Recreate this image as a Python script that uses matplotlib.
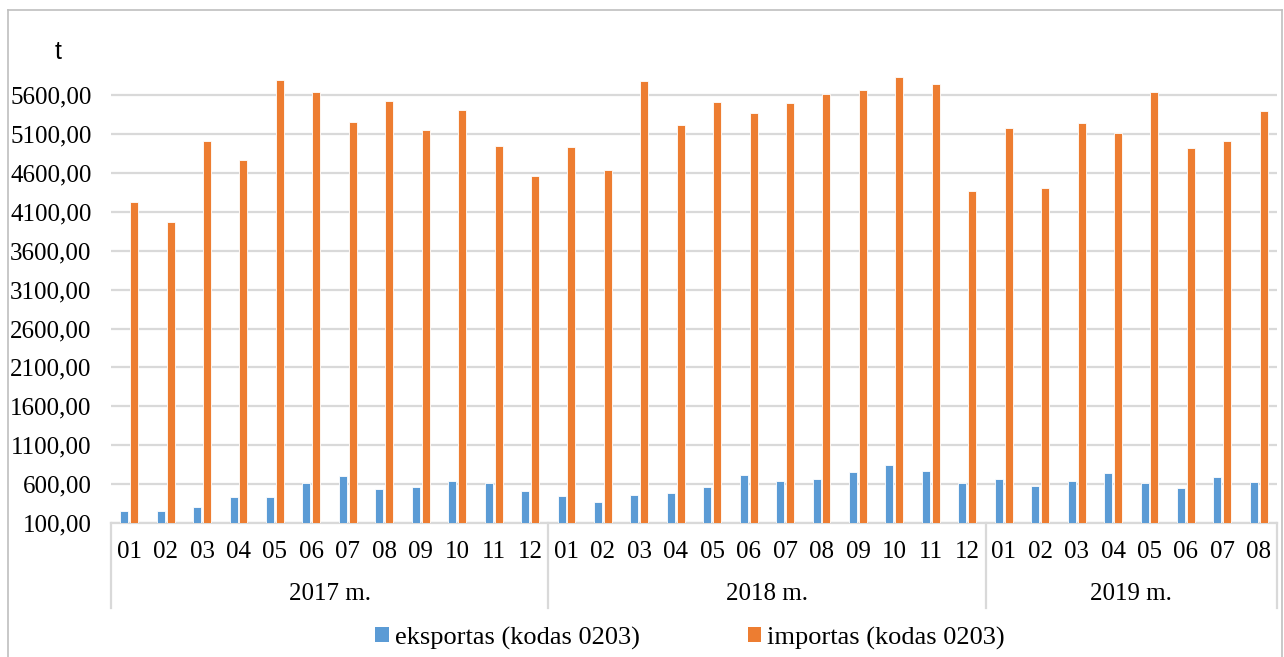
import matplotlib
matplotlib.use("Agg")
import matplotlib.pyplot as plt
from matplotlib.lines import Line2D
from matplotlib.patches import Patch
import numpy as np

years = ["2017 m.", "2018 m.", "2019 m."]
months_per_year = [12, 12, 8]
month_labels = ["01", "02", "03", "04", "05", "06", "07", "08", "09", "10", "11", "12",
                "01", "02", "03", "04", "05", "06", "07", "08", "09", "10", "11", "12",
                "01", "02", "03", "04", "05", "06", "07", "08"]
eksportas = [251, 255, 303, 432, 428, 609, 707, 535, 561, 635, 613, 513,
             445, 367, 466, 483, 569, 716, 638, 660, 750, 845, 768, 613,
             660, 578, 638, 737, 613, 544, 690, 621]
importas = [4228, 3972, 5005, 4771, 5792, 5646, 5254, 5518, 5151, 5408, 4941, 4565,
            4928, 4633, 5779, 5215, 5514, 5373, 5501, 5613, 5672, 5835, 5745, 4369,
            5177, 4408, 5241, 5117, 5638, 4920, 5014, 5399]
yticks = [100, 600, 1100, 1600, 2100, 2600, 3100, 3600, 4100, 4600, 5100, 5600]
series_names = ["eksportas (kodas 0203)", "importas (kodas 0203)"]

BLUE = "#5B9BD5"
ORANGE = "#ED7D31"
GRID = "#D9D9D9"
SERIF = ["Liberation Serif", "DejaVu Serif"]
FS = 18

W, H = 1284, 657
fig = plt.figure(figsize=(W / 100, H / 100), dpi=100)
fig.patch.set_facecolor("white")

left, right, top, bottom = 111, 1277, 64, 523
ax = fig.add_axes([left / W, 1 - bottom / H, (right - left) / W, (bottom - top) / H])

x = np.arange(len(month_labels))
bw = 0.22
ax.bar(x - 0.135, eksportas, width=bw, color=BLUE, edgecolor="white", linewidth=0.6,
       zorder=3)
ax.bar(x + 0.135, importas, width=bw, color=ORANGE, edgecolor="white", linewidth=0.6,
       zorder=3)

ax.set_xlim(-0.5, len(month_labels) - 0.5)
ax.set_ylim(100, 6000)
ax.set_yticks(yticks)
ax.set_yticklabels([f"{v:.2f}".replace(".", ",") for v in yticks], fontfamily=SERIF, fontsize=FS)
ax.tick_params(axis="y", length=0, pad=14)
ax.yaxis.grid(True, color=GRID, linewidth=1.6, zorder=0)
ax.set_axisbelow(True)
for s in ["top", "right", "left"]:
    ax.spines[s].set_visible(False)
ax.spines["bottom"].set_color(GRID)
ax.spines["bottom"].set_linewidth(1.6)
ax.set_xticks([])

# month labels
for i, m in enumerate(month_labels):
    ax.annotate(m, xy=(i, 0), xycoords=("data", "axes fraction"), xytext=(0, -29),
                textcoords="offset pixels", ha="center", va="center",
                fontfamily=SERIF, fontsize=FS)

# year labels and separators
bounds = np.concatenate([[0], np.cumsum(months_per_year)]) - 0.5
axh = bottom - top
for b in bounds:
    ax.plot([b, b], [0, -85 / axh], transform=ax.get_xaxis_transform(), clip_on=False,
            color=GRID, linewidth=1.6)
for k, yl in enumerate(years):
    cx = (bounds[k] + bounds[k + 1]) / 2
    ax.annotate(yl, xy=(cx, 0), xycoords=("data", "axes fraction"), xytext=(0, -71),
                textcoords="offset pixels", ha="center", va="center",
                fontfamily=SERIF, fontsize=FS)

# unit label
fig.text(58 / W, 1 - 52 / H, "t", ha="center", va="center",
         fontfamily=["Liberation Sans", "DejaVu Sans"], fontsize=18)

# outer border
fig.add_artist(Line2D([8 / W, 8 / W], [1 - 10 / H, -0.01], color="#BFBFBF", linewidth=1.2,
                      transform=fig.transFigure))
fig.add_artist(Line2D([8 / W, 1282 / W], [1 - 10 / H, 1 - 10 / H], color="#BFBFBF",
                      linewidth=1.2, transform=fig.transFigure))
fig.add_artist(Line2D([1282 / W, 1282 / W], [1 - 10 / H, -0.01], color="#BFBFBF",
                      linewidth=1.2, transform=fig.transFigure))

handles = [Patch(facecolor=BLUE, edgecolor="none"), Patch(facecolor=ORANGE, edgecolor="none")]
fig.legend(handles, series_names, loc="center", bbox_to_anchor=(690 / W, 1 - 638 / H),
           ncol=2, frameon=False, prop={"family": SERIF, "size": 19},
           handlelength=0.52, handleheight=0.52, handletextpad=0.22, columnspacing=4.1,
           borderpad=0, borderaxespad=0)

fig.savefig("out.png", dpi=100)
